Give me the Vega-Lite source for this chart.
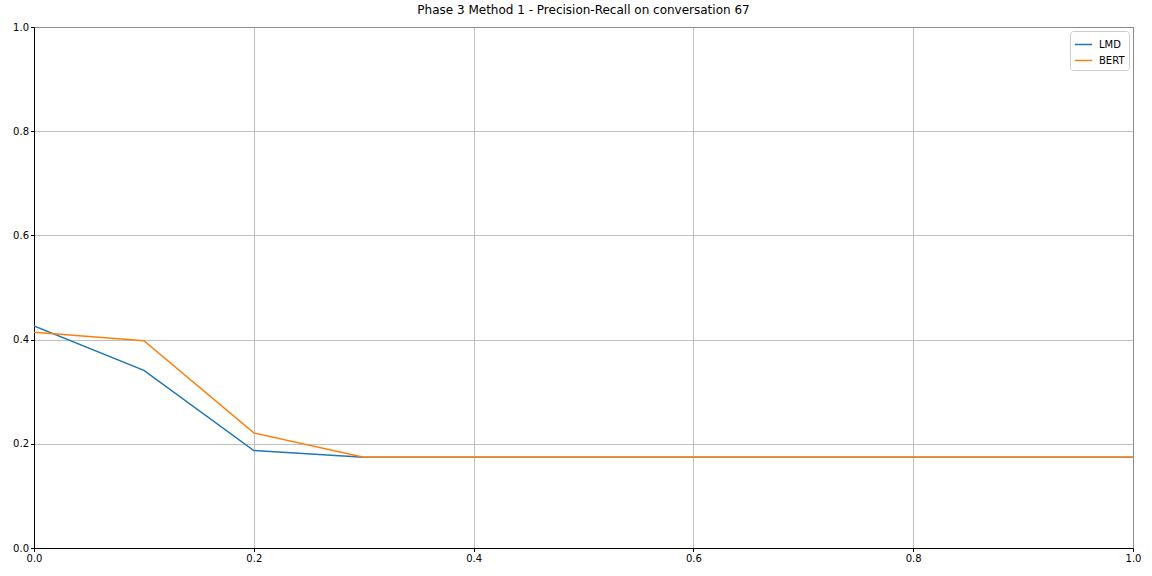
{
  "$schema": "https://vega.github.io/schema/vega-lite/v6.json",
  "autosize": {"type": "none"},
  "padding": {"left": 34, "top": 27, "right": 19, "bottom": 28},
  "width": 1099,
  "height": 521,
  "background": "white",
  "config": {
    "font": "DejaVu Sans",
    "view": {"stroke": "black", "strokeWidth": 1}
  },
  "title": {
    "text": "Phase 3 Method 1 - Precision-Recall on conversation 67",
    "fontSize": 12,
    "fontWeight": "normal",
    "font": "DejaVu Sans",
    "color": "black",
    "offset": 5
  },
  "data": {
    "values": [
      {"recall": 0.0, "precision": 0.426, "model": "LMD"},
      {"recall": 0.1, "precision": 0.341, "model": "LMD"},
      {"recall": 0.2, "precision": 0.187, "model": "LMD"},
      {"recall": 0.3, "precision": 0.174, "model": "LMD"},
      {"recall": 0.4, "precision": 0.174, "model": "LMD"},
      {"recall": 0.5, "precision": 0.174, "model": "LMD"},
      {"recall": 0.6, "precision": 0.174, "model": "LMD"},
      {"recall": 0.7, "precision": 0.174, "model": "LMD"},
      {"recall": 0.8, "precision": 0.174, "model": "LMD"},
      {"recall": 0.9, "precision": 0.174, "model": "LMD"},
      {"recall": 1.0, "precision": 0.174, "model": "LMD"},
      {"recall": 0.0, "precision": 0.414, "model": "BERT"},
      {"recall": 0.1, "precision": 0.398, "model": "BERT"},
      {"recall": 0.2, "precision": 0.221, "model": "BERT"},
      {"recall": 0.3, "precision": 0.174, "model": "BERT"},
      {"recall": 0.4, "precision": 0.174, "model": "BERT"},
      {"recall": 0.5, "precision": 0.174, "model": "BERT"},
      {"recall": 0.6, "precision": 0.174, "model": "BERT"},
      {"recall": 0.7, "precision": 0.174, "model": "BERT"},
      {"recall": 0.8, "precision": 0.174, "model": "BERT"},
      {"recall": 0.9, "precision": 0.174, "model": "BERT"},
      {"recall": 1.0, "precision": 0.174, "model": "BERT"}
    ]
  },
  "mark": {"type": "line", "strokeWidth": 1.5, "clip": true},
  "encoding": {
    "x": {
      "field": "recall",
      "type": "quantitative",
      "scale": {"domain": [0, 1], "nice": false},
      "axis": {
        "title": null,
        "values": [0, 0.2, 0.4, 0.6, 0.8, 1.0],
        "format": ".1f",
        "grid": true,
        "gridColor": "#b0b0b0",
        "gridWidth": 0.8,
        "domainColor": "black",
        "tickColor": "black",
        "tickSize": 3.5,
        "labelFontSize": 10,
        "labelColor": "black",
        "labelPadding": 2,
        "labelFlush": false,
        "labelFont": "DejaVu Sans"
      }
    },
    "y": {
      "field": "precision",
      "type": "quantitative",
      "scale": {"domain": [0, 1], "nice": false},
      "axis": {
        "title": null,
        "values": [0, 0.2, 0.4, 0.6, 0.8, 1.0],
        "format": ".1f",
        "grid": true,
        "gridColor": "#b0b0b0",
        "gridWidth": 0.8,
        "domainColor": "black",
        "tickColor": "black",
        "tickSize": 3.5,
        "labelFontSize": 10,
        "labelColor": "black",
        "labelPadding": 2,
        "labelFlush": false,
        "labelFont": "DejaVu Sans"
      }
    },
    "color": {
      "field": "model",
      "type": "nominal",
      "sort": ["LMD", "BERT"],
      "scale": {"domain": ["LMD", "BERT"], "range": ["#1f77b4", "#ff7f0e"]},
      "legend": {
        "title": null,
        "orient": "top-right",
        "offset": 4,
        "symbolType": "stroke",
        "symbolSize": 300,
        "symbolStrokeWidth": 1.5,
        "labelFontSize": 10,
        "labelFont": "DejaVu Sans",
        "labelColor": "black",
        "strokeColor": "#cccccc",
        "fillColor": "white",
        "cornerRadius": 3,
        "padding": 4,
        "rowPadding": 1,
        "labelOffset": 6
      }
    }
  }
}
